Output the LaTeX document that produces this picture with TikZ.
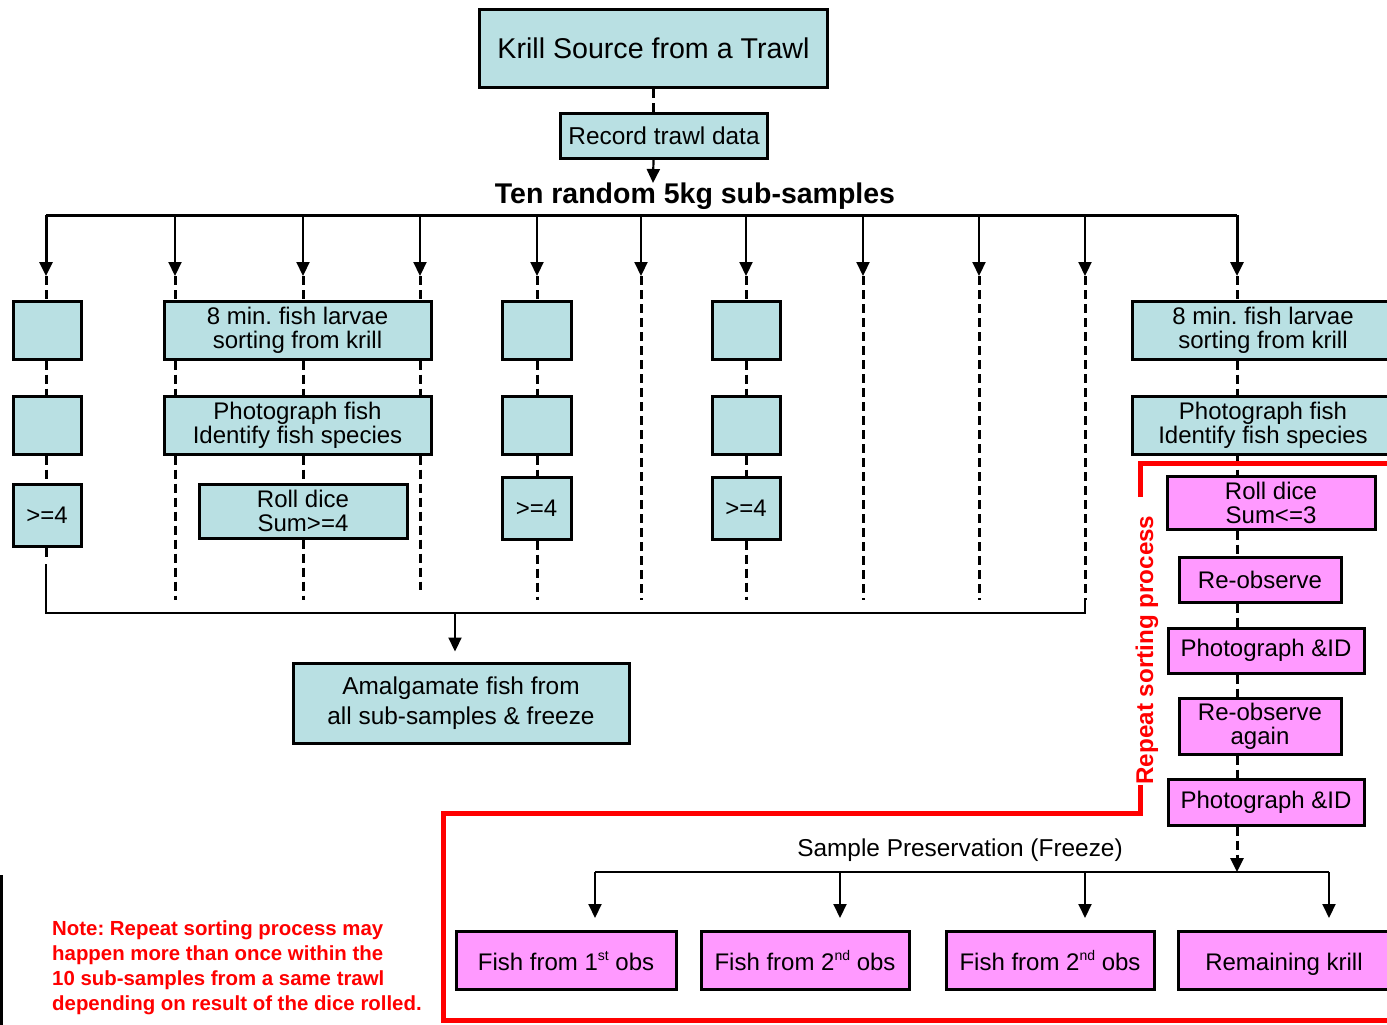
\documentclass[tikz,border=0pt]{standalone}
\usepackage{fontspec}
\setmainfont{Liberation Sans}
\usetikzlibrary{arrows.meta,calc,backgrounds}
\definecolor{kblue}{HTML}{B9E0E3}
\definecolor{kpink}{HTML}{FF99FF}
\definecolor{kred}{HTML}{FF0000}
\newcommand{\myfs}[2]{\fontsize{#1}{#2}\selectfont}
\newcommand{\mysups}[1]{\raisebox{0.42em}{\myfs{14}{14}#1}}
\frenchspacing
\begin{document}
\frenchspacing
\begin{tikzpicture}[x=1pt,y=-1pt,
  bluebox/.style={draw=black,line width=3pt,fill=kblue,inner sep=0pt,align=center,font=\myfs{24}{24}},
  pinkbox/.style={draw=black,line width=3pt,fill=kpink,inner sep=0pt,align=center,font=\myfs{24}{24}},
  botbox/.style={pinkbox,minimum height=58pt,text height=26pt,text depth=5pt},
  dropln/.style={line width=2.2pt},
  busln/.style={line width=3pt},
  dsh/.style={line width=3pt,dash pattern=on 9pt off 5pt},
  tip/.style={-{Triangle[length=14pt,width=13pt]}},
  redln/.style={draw=kred,line width=5pt,line join=miter}
]
\clip (0,0) rectangle (1387,1025);

% ---------- coordinates ----------
\coordinate (tenarr) at (653,183);
\foreach \x [count=\i] in {46,175,303,420,537,641,746,863,979,1085,1237}{
  \coordinate (top\i) at (\x,215);
  \coordinate (arr\i) at (\x,276);
  \coordinate (end\i) at (\x,600);
  \coordinate (bot\i) at (\x,613);
}
\coordinate (end4b) at (420,590);
\coordinate (j1) at (46,560);
\coordinate (j1b) at (46,564);
\coordinate (bm) at (455,613);
\coordinate (sp) at (1237,872);
\coordinate (d1) at (595,872);
\coordinate (d2) at (840,872);
\coordinate (d3) at (1085,872);
\coordinate (d4) at (1329,872);
\coordinate (e1) at (595,918);
\coordinate (e2) at (840,918);
\coordinate (e3) at (1085,918);
\coordinate (e4) at (1329,918);
\coordinate (rA) at (1140,497);
\coordinate (rB) at (1140,463);
\coordinate (rC) at (1400,463);
\coordinate (rD) at (1140,785);
\coordinate (rE) at (1140,813);
\coordinate (rF) at (443,813);
\coordinate (rG) at (443,1020);
\coordinate (rH) at (1400,1020);

% ---------- nodes ----------
\node[bluebox,minimum width=348pt,minimum height=78pt,font=\myfs{28.6}{28}] (krill) at (653.5,48.5) {Krill Source from a Trawl};
\node[bluebox,minimum width=207pt,minimum height=45pt,font=\myfs{24.4}{24}] (rec) at (664,136) {Record trawl data};
\node[font=\myfs{28.5}{28}\bfseries,inner sep=0pt] (ten) at (695,196) {Ten random 5kg sub-samples};

\node[bluebox,minimum width=68pt,minimum height=58pt] (c1a) at (47,330) {};
\node[bluebox,minimum width=68pt,minimum height=58pt] (c1b) at (47,425) {};
\node[bluebox,minimum width=68pt,minimum height=62pt] (c1c) at (47,515) {>=4};

\node[bluebox,minimum width=267pt,minimum height=58pt] (g2a) at (297.5,330) {8 min. fish larvae\\ sorting from krill};
\node[bluebox,minimum width=267pt,minimum height=58pt] (g2b) at (297.5,425) {Photograph fish\\Identify fish species};
\node[bluebox,minimum width=208pt,minimum height=54pt] (g2c) at (303,511) {Roll dice\\Sum>=4};

\node[bluebox,minimum width=69pt,minimum height=58pt] (c5a) at (536.5,330) {};
\node[bluebox,minimum width=69pt,minimum height=58pt] (c5b) at (536.5,425) {};
\node[bluebox,minimum width=69pt,minimum height=62pt] (c5c) at (536.5,508) {>=4};

\node[bluebox,minimum width=68pt,minimum height=58pt] (c7a) at (746,330) {};
\node[bluebox,minimum width=68pt,minimum height=58pt] (c7b) at (746,425) {};
\node[bluebox,minimum width=68pt,minimum height=62pt] (c7c) at (746,508) {>=4};

\node[bluebox,minimum width=262pt,minimum height=58pt] (r1) at (1263,330) {8 min. fish larvae\\ sorting from krill};
\node[bluebox,minimum width=262pt,minimum height=58pt] (r2) at (1263,425) {Photograph fish\\Identify fish species};

\node[pinkbox,minimum width=208pt,minimum height=53pt] (p1) at (1271,502.5) {Roll dice\\Sum<=3};
\node[pinkbox,minimum width=162pt,minimum height=45pt] (p2) at (1260,579.5) {Re-observe};
\node[pinkbox,minimum width=196pt,minimum height=45pt] (p3) at (1266,650.5) {Photograph \&ID};
\node[pinkbox,minimum width=162pt,minimum height=56pt] (p4) at (1260,726) {Re-observe\\again};
\node[pinkbox,minimum width=196pt,minimum height=46pt] (p5) at (1266,802) {Photograph \&ID};

\node[bluebox,minimum width=336pt,minimum height=80pt,font=\myfs{24.4}{30}] (amal) at (461,703) {Amalgamate fish from\\all sub-samples \& freeze};

\node[font=\myfs{24.4}{24},inner sep=0pt] (spt) at (960,850) {Sample Preservation (Freeze)};

\node[botbox,minimum width=220pt] (b1) at (566,960) {Fish from 1\mysups{st} obs};
\node[botbox,minimum width=208pt] (b2) at (805,960) {Fish from 2\mysups{nd} obs};
\node[botbox,minimum width=208pt] (b3) at (1050,960) {Fish from 2\mysups{nd} obs};
\node[botbox,minimum width=212pt] (b4) at (1284,960) {Remaining krill};

\node[anchor=north west,inner sep=0pt,align=left,text=kred,font=\myfs{20.4}{24.7}\bfseries] (note) at (52,921)
  {Note: Repeat sorting process may\\happen more than once within the\\10 sub-samples from a same trawl\\depending on result of the dice rolled.};

\node[rotate=90,text=kred,font=\myfs{24.2}{24}\bfseries,inner sep=0pt] (rep) at (1147,650) {Repeat sorting process};

% red frame
\draw[redln] (rA) -- (rB) -- (rC);
\draw[redln] (rD) -- (rE) -- (rF) -- (rG) -- (rH);

% black bar at left edge
\fill[black] (0,875) rectangle (3,1025);

% ---------- connectors (behind boxes) ----------
\begin{scope}[on background layer]
\fill[white] (0,0) rectangle (1387,1025);
% top
\draw[dsh] (krill.south) -- (krill.south |- rec.north);
\draw[dropln,tip] (krill.south |- rec.south) -- (tenarr);
% bus
\draw[busln] (top1) -- (top11);
\foreach \i in {2,...,10}{ \draw[dropln,tip] (top\i) -- (arr\i); }
\draw[busln,tip] (top1) -- (arr1);
\draw[busln,tip] (top11) -- (arr11);
% column 1
\draw[dsh] (arr1) -- (arr1 |- c1a.north);
\draw[dsh] (arr1 |- c1a.south) -- (arr1 |- c1b.north);
\draw[dsh] (arr1 |- c1b.south) -- (arr1 |- c1c.north);
\draw[dsh] (arr1 |- c1c.south) -- (j1);
% group 2
\foreach \i in {2,3,4}{
  \draw[dsh] (arr\i) -- (arr\i |- g2a.north);
  \draw[dsh] (arr\i |- g2a.south) -- (arr\i |- g2b.north);
}
\draw[dsh] (arr2 |- g2b.south) -- (end2);
\draw[dsh] (arr3 |- g2b.south) -- (arr3 |- g2c.north);
\draw[dsh] (arr3 |- g2c.south) -- (end3);
\draw[dsh] (arr4 |- g2b.south) -- (end4b);
% columns 5 and 7
\foreach \i/\n in {5/c5,7/c7}{
  \draw[dsh] (arr\i) -- (arr\i |- \n a.north);
  \draw[dsh] (arr\i |- \n a.south) -- (arr\i |- \n b.north);
  \draw[dsh] (arr\i |- \n b.south) -- (arr\i |- \n c.north);
  \draw[dsh] (arr\i |- \n c.south) -- (end\i);
}
% plain dashed columns
\foreach \i in {6,8,9,10}{ \draw[dsh] (arr\i) -- (end\i); }
% bottom collector
\draw[line width=2.5pt] (j1b) -- (bot1) -- (bot10) -- (end10);
\draw[dropln,tip,shorten >=10pt] (bm) -- (bm |- amal.north);
% right column
\draw[dsh] (arr11) -- (arr11 |- r1.north);
\draw[dsh] (arr11 |- r1.south) -- (arr11 |- r2.north);
\draw[dsh] (arr11 |- r2.south) -- (arr11 |- p1.north);
\draw[dsh] (arr11 |- p1.south) -- (arr11 |- p2.north);
\draw[dsh] (arr11 |- p2.south) -- (arr11 |- p3.north);
\draw[dsh] (arr11 |- p3.south) -- (arr11 |- p4.north);
\draw[dsh] (arr11 |- p4.south) -- (arr11 |- p5.north);
\draw[dsh,tip] (arr11 |- p5.south) -- (sp);
% preservation distribution
\draw[line width=2pt] (d1) -- (d4);
\draw[line width=2pt,tip] (d1) -- (e1);
\draw[line width=2pt,tip] (d2) -- (e2);
\draw[line width=2pt,tip] (d3) -- (e3);
\draw[line width=2pt,tip] (d4) -- (e4);
\end{scope}
\end{tikzpicture}
\end{document}
